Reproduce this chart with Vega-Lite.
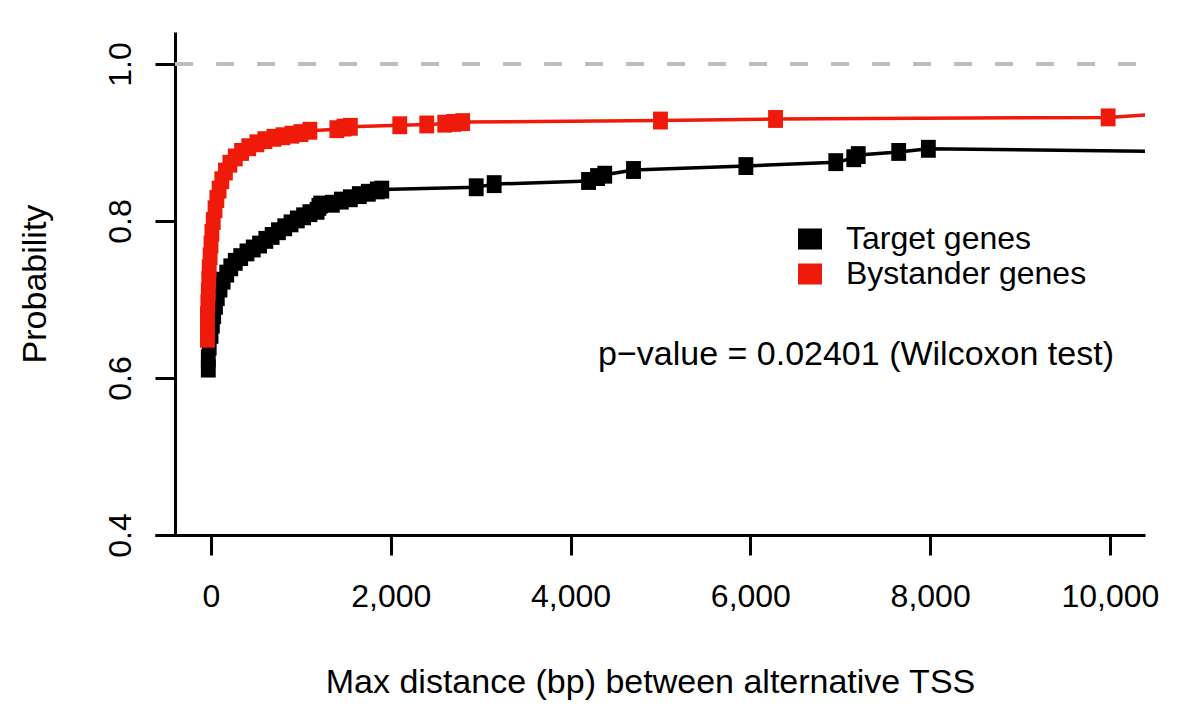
{
  "$schema": "https://vega.github.io/schema/vega-lite/v6.json",
  "width": 990,
  "height": 503,
  "autosize": {"type": "none"},
  "padding": {"left": 155, "top": 32, "right": 55, "bottom": 186},
  "background": "white",
  "config": {"view": {"stroke": null}, "font": "Liberation Sans"},
  "datasets": {
    "curves": [
      {"series": "Target genes", "d": -30, "p": 0.612, "m": 1},
      {"series": "Target genes", "d": -30, "p": 0.625, "m": 1},
      {"series": "Target genes", "d": -20, "p": 0.640, "m": 1},
      {"series": "Target genes", "d": 0, "p": 0.655, "m": 1},
      {"series": "Target genes", "d": 15, "p": 0.668, "m": 1},
      {"series": "Target genes", "d": 30, "p": 0.680, "m": 1},
      {"series": "Target genes", "d": 50, "p": 0.692, "m": 1},
      {"series": "Target genes", "d": 70, "p": 0.703, "m": 1},
      {"series": "Target genes", "d": 100, "p": 0.714, "m": 1},
      {"series": "Target genes", "d": 135, "p": 0.724, "m": 1},
      {"series": "Target genes", "d": 175, "p": 0.733, "m": 1},
      {"series": "Target genes", "d": 220, "p": 0.741, "m": 1},
      {"series": "Target genes", "d": 270, "p": 0.748, "m": 1},
      {"series": "Target genes", "d": 330, "p": 0.754, "m": 1},
      {"series": "Target genes", "d": 400, "p": 0.760, "m": 1},
      {"series": "Target genes", "d": 470, "p": 0.765, "m": 1},
      {"series": "Target genes", "d": 540, "p": 0.770, "m": 1},
      {"series": "Target genes", "d": 610, "p": 0.776, "m": 1},
      {"series": "Target genes", "d": 680, "p": 0.781, "m": 1},
      {"series": "Target genes", "d": 750, "p": 0.787, "m": 1},
      {"series": "Target genes", "d": 820, "p": 0.792, "m": 1},
      {"series": "Target genes", "d": 890, "p": 0.797, "m": 1},
      {"series": "Target genes", "d": 960, "p": 0.802, "m": 1},
      {"series": "Target genes", "d": 1030, "p": 0.806, "m": 1},
      {"series": "Target genes", "d": 1100, "p": 0.810, "m": 1},
      {"series": "Target genes", "d": 1180, "p": 0.813, "m": 1},
      {"series": "Target genes", "d": 1200, "p": 0.818, "m": 1},
      {"series": "Target genes", "d": 1220, "p": 0.821, "m": 1},
      {"series": "Target genes", "d": 1350, "p": 0.822, "m": 1},
      {"series": "Target genes", "d": 1450, "p": 0.826, "m": 1},
      {"series": "Target genes", "d": 1550, "p": 0.829, "m": 1},
      {"series": "Target genes", "d": 1650, "p": 0.833, "m": 1},
      {"series": "Target genes", "d": 1750, "p": 0.836, "m": 1},
      {"series": "Target genes", "d": 1850, "p": 0.839, "m": 1},
      {"series": "Target genes", "d": 1900, "p": 0.840, "m": 1},
      {"series": "Target genes", "d": 2950, "p": 0.843, "m": 1},
      {"series": "Target genes", "d": 3150, "p": 0.847, "m": 1},
      {"series": "Target genes", "d": 4200, "p": 0.851, "m": 1},
      {"series": "Target genes", "d": 4300, "p": 0.856, "m": 1},
      {"series": "Target genes", "d": 4380, "p": 0.859, "m": 1},
      {"series": "Target genes", "d": 4700, "p": 0.865, "m": 1},
      {"series": "Target genes", "d": 5950, "p": 0.870, "m": 1},
      {"series": "Target genes", "d": 6950, "p": 0.875, "m": 1},
      {"series": "Target genes", "d": 7150, "p": 0.880, "m": 1},
      {"series": "Target genes", "d": 7200, "p": 0.884, "m": 1},
      {"series": "Target genes", "d": 7650, "p": 0.888, "m": 1},
      {"series": "Target genes", "d": 7980, "p": 0.892, "m": 1},
      {"series": "Target genes", "d": 10390, "p": 0.889, "m": 0},
      {"series": "Bystander genes", "d": -40, "p": 0.650, "m": 1},
      {"series": "Bystander genes", "d": -40, "p": 0.665, "m": 1},
      {"series": "Bystander genes", "d": -40, "p": 0.680, "m": 1},
      {"series": "Bystander genes", "d": -35, "p": 0.695, "m": 1},
      {"series": "Bystander genes", "d": -30, "p": 0.710, "m": 1},
      {"series": "Bystander genes", "d": -25, "p": 0.725, "m": 1},
      {"series": "Bystander genes", "d": -20, "p": 0.740, "m": 1},
      {"series": "Bystander genes", "d": -10, "p": 0.755, "m": 1},
      {"series": "Bystander genes", "d": 0, "p": 0.770, "m": 1},
      {"series": "Bystander genes", "d": 10, "p": 0.785, "m": 1},
      {"series": "Bystander genes", "d": 25, "p": 0.800, "m": 1},
      {"series": "Bystander genes", "d": 45, "p": 0.815, "m": 1},
      {"series": "Bystander genes", "d": 65, "p": 0.828, "m": 1},
      {"series": "Bystander genes", "d": 90, "p": 0.840, "m": 1},
      {"series": "Bystander genes", "d": 120, "p": 0.852, "m": 1},
      {"series": "Bystander genes", "d": 160, "p": 0.863, "m": 1},
      {"series": "Bystander genes", "d": 210, "p": 0.873, "m": 1},
      {"series": "Bystander genes", "d": 270, "p": 0.881, "m": 1},
      {"series": "Bystander genes", "d": 340, "p": 0.888, "m": 1},
      {"series": "Bystander genes", "d": 420, "p": 0.894, "m": 1},
      {"series": "Bystander genes", "d": 510, "p": 0.899, "m": 1},
      {"series": "Bystander genes", "d": 600, "p": 0.903, "m": 1},
      {"series": "Bystander genes", "d": 700, "p": 0.906, "m": 1},
      {"series": "Bystander genes", "d": 800, "p": 0.908, "m": 1},
      {"series": "Bystander genes", "d": 900, "p": 0.910, "m": 1},
      {"series": "Bystander genes", "d": 1000, "p": 0.912, "m": 1},
      {"series": "Bystander genes", "d": 1100, "p": 0.915, "m": 1},
      {"series": "Bystander genes", "d": 1400, "p": 0.917, "m": 1},
      {"series": "Bystander genes", "d": 1480, "p": 0.919, "m": 1},
      {"series": "Bystander genes", "d": 1550, "p": 0.920, "m": 1},
      {"series": "Bystander genes", "d": 2100, "p": 0.922, "m": 1},
      {"series": "Bystander genes", "d": 2400, "p": 0.923, "m": 1},
      {"series": "Bystander genes", "d": 2600, "p": 0.924, "m": 1},
      {"series": "Bystander genes", "d": 2700, "p": 0.925, "m": 1},
      {"series": "Bystander genes", "d": 2800, "p": 0.926, "m": 1},
      {"series": "Bystander genes", "d": 5000, "p": 0.928, "m": 1},
      {"series": "Bystander genes", "d": 6280, "p": 0.930, "m": 1},
      {"series": "Bystander genes", "d": 9980, "p": 0.932, "m": 1},
      {"series": "Bystander genes", "d": 10390, "p": 0.935, "m": 0}
    ],
    "refline": [{"x0": -400, "x1": 10390, "p": 1.0}],
    "note": [{"d": 4305, "p": 0.617, "label": "p−value = 0.02401 (Wilcoxon test)"}]
  },
  "layer": [
    {
      "data": {"name": "refline"},
      "mark": {"type": "rule", "stroke": "#b9c1bd", "strokeWidth": 4, "strokeDash": [18, 23]},
      "encoding": {
        "x": {"field": "x0", "type": "quantitative", "scale": {"domain": [-623, 10390], "nice": false, "zero": false}},
        "x2": {"field": "x1"},
        "y": {"field": "p", "type": "quantitative", "scale": {"domain": [0.4, 1.0408], "nice": false, "zero": false}}
      }
    },
    {
      "data": {"name": "curves"},
      "mark": {"type": "line", "strokeWidth": 3.5},
      "encoding": {
        "x": {
          "field": "d", "type": "quantitative",
          "scale": {"domain": [-623, 10390], "nice": false, "zero": false},
          "axis": {
            "title": "Max distance (bp) between alternative TSS",
            "values": [0, 2000, 4000, 6000, 8000, 10000],
            "format": ",.0f",
            "grid": false,
            "domainWidth": 3, "domainColor": "black",
            "tickColor": "black", "tickWidth": 3, "tickSize": 20,
            "labelFontSize": 32, "labelColor": "black", "labelPadding": 26,
            "labelFlush": false, "labelOverlap": false,
            "titleFontSize": 34, "titleFontWeight": "normal", "titleColor": "black", "titlePadding": 53
          }
        },
        "y": {
          "field": "p", "type": "quantitative",
          "scale": {"domain": [0.4, 1.0408], "nice": false, "zero": false},
          "axis": {
            "title": "Probability",
            "values": [0.4, 0.6, 0.8, 1.0],
            "format": ".1f",
            "grid": false,
            "offset": -20,
            "domainWidth": 3, "domainColor": "black",
            "tickColor": "black", "tickWidth": 3, "tickSize": 20,
            "labelAngle": -90, "labelAlign": "center", "labelBaseline": "bottom",
            "labelFontSize": 32, "labelColor": "black", "labelPadding": 18,
            "labelOverlap": false,
            "titleFontSize": 34, "titleFontWeight": "normal", "titleColor": "black", "titlePadding": 52
          }
        },
        "color": {
          "field": "series", "type": "nominal",
          "scale": {"domain": ["Target genes", "Bystander genes"], "range": ["#000000", "#f01a0a"]},
          "legend": {
            "orient": "none", "legendX": 639, "legendY": 191,
            "title": null,
            "symbolType": "M-1,-0.86H1V0.86H-1Z", "symbolSize": 484,
            "symbolStrokeColor": "black", "symbolStrokeWidth": 2,
            "labelFontSize": 32, "labelColor": "black", "labelOffset": 20, "labelLimit": 0,
            "rowPadding": 3,
            "encode": {"symbols": {"update": {"stroke": {"value": "black"}, "strokeWidth": {"value": 2}}}}
          }
        }
      }
    },
    {
      "data": {"name": "curves"},
      "transform": [{"filter": "datum.m == 1"}],
      "mark": {"type": "point", "filled": true, "opacity": 1, "shape": "M-0.83,-1H0.83V1H-0.83Z", "size": 320},
      "encoding": {
        "x": {"field": "d", "type": "quantitative"},
        "y": {"field": "p", "type": "quantitative"},
        "color": {
          "field": "series", "type": "nominal",
          "scale": {"domain": ["Target genes", "Bystander genes"], "range": ["#000000", "#f01a0a"]},
          "legend": {
            "orient": "none", "legendX": 639, "legendY": 191,
            "title": null,
            "symbolType": "M-1,-0.86H1V0.86H-1Z", "symbolSize": 484,
            "symbolStrokeColor": "black", "symbolStrokeWidth": 2,
            "labelFontSize": 32, "labelColor": "black", "labelOffset": 20, "labelLimit": 0,
            "rowPadding": 3,
            "encode": {"symbols": {"update": {"stroke": {"value": "black"}, "strokeWidth": {"value": 2}}}}
          }
        }
      }
    },
    {
      "data": {"name": "note"},
      "mark": {"type": "text", "align": "left", "baseline": "alphabetic", "fontSize": 34, "color": "black"},
      "encoding": {
        "x": {"field": "d", "type": "quantitative"},
        "y": {"field": "p", "type": "quantitative"},
        "text": {"field": "label"}
      }
    }
  ]
}
